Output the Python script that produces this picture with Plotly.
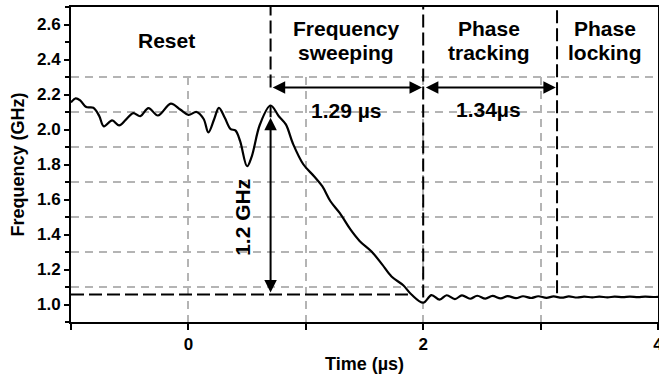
import plotly.graph_objects as go

# ---- data ----
time_us = [-1.00, -0.96, -0.92, -0.87, -0.81, -0.76, -0.72, -0.65, -0.59, -0.53,
           -0.47, -0.41, -0.34, -0.26, -0.15, -0.07, 0.00, 0.07, 0.13, 0.17,
           0.22, 0.26, 0.31, 0.36, 0.40, 0.44, 0.50, 0.54, 0.61, 0.70,
           0.77, 0.83, 0.89, 0.98, 1.07, 1.14, 1.21, 1.29, 1.38, 1.46,
           1.56, 1.65, 1.73, 1.83, 1.90, 2.00, 2.07, 2.14, 2.20, 2.27,
           2.33, 2.40, 2.46, 2.53, 2.59, 2.66, 2.72, 2.79, 2.85, 2.92,
           2.98, 3.05, 3.11, 3.18, 3.24, 3.31, 3.37, 3.44, 3.50, 3.57,
           3.63, 3.70, 3.76, 3.83, 3.89, 3.96, 4.00]
freq_ghz = [2.155, 2.178, 2.165, 2.128, 2.124, 2.078, 2.018, 2.052, 2.024, 2.058,
            2.094, 2.076, 2.122, 2.080, 2.148, 2.114, 2.084, 2.100, 2.060, 1.983,
            2.060, 2.124, 2.067, 2.002, 1.995, 1.935, 1.790, 1.847, 2.030, 2.137,
            2.076, 2.029, 1.920, 1.800, 1.733, 1.676, 1.590, 1.522, 1.429, 1.362,
            1.303, 1.229, 1.160, 1.110, 1.057, 1.010, 1.054, 1.028, 1.053, 1.031,
            1.052, 1.033, 1.050, 1.034, 1.049, 1.035, 1.048, 1.036, 1.047, 1.037,
            1.047, 1.038, 1.046, 1.039, 1.046, 1.040, 1.045, 1.041, 1.045, 1.041,
            1.045, 1.042, 1.045, 1.042, 1.045, 1.043, 1.044]

phase_bounds = [0.7, 2.0, 3.14]          # vertical dashed boundaries (us)
phase_bound_bottom = [2.24, 1.04, 1.065]  # where each boundary line stops (GHz)
peak_time = 0.7
peak_freq = 2.135
settle_freq = 1.057
settle_line_end = 1.87
arrow_level = 2.24
sweep_label = "1.29 µs"
track_label = "1.34µs"
step_label = "1.2 GHz"

phase_names = [["Reset"], ["Frequency", "sweeping"], ["Phase", "tracking"], ["Phase", "locking"]]
phase_centers = [-0.19, 1.345, 2.56, 3.55]

FONT = "Liberation Sans"

fig = go.Figure()
fig.add_trace(go.Scatter(x=time_us, y=freq_ghz, mode="lines",
                         line=dict(color="black", width=2.2, shape="spline", smoothing=1.0),
                         hoverinfo="skip", showlegend=False))

# white band hiding the grid above 2.3 GHz
fig.add_shape(type="rect", xref="x", yref="y", x0=-1, x1=4, y0=2.31, y1=2.7,
              fillcolor="white", line_width=0, layer="between")

dash = "13px,5px"
for xb, yb in zip(phase_bounds, phase_bound_bottom):
    fig.add_shape(type="line", x0=xb, x1=xb, y0=yb, y1=2.7,
                  line=dict(color="black", width=2, dash=dash))
fig.add_shape(type="line", x0=-1, x1=settle_line_end, y0=settle_freq, y1=settle_freq,
              line=dict(color="black", width=2, dash=dash))
# solid vertical line from peak to the settle level
fig.add_shape(type="line", x0=peak_time, x1=peak_time, y0=2.07, y1=peak_freq,
              line=dict(color="black", width=2))

arrow_style = dict(showarrow=True, arrowhead=2, startarrowhead=2, arrowside="end+start",
                   arrowsize=1.25, startarrowsize=1.25, arrowwidth=2, arrowcolor="black",
                   axref="x", ayref="y", text="")
# vertical 1.2 GHz arrow
fig.add_annotation(x=peak_time, y=settle_freq + 0.012, ax=peak_time, ay=2.075, **arrow_style)
# horizontal arrows
fig.add_annotation(x=phase_bounds[1] - 0.01, y=arrow_level, ax=phase_bounds[0] + 0.005, ay=arrow_level, **arrow_style)
fig.add_annotation(x=phase_bounds[2] - 0.01, y=arrow_level, ax=phase_bounds[1] + 0.01, ay=arrow_level, **arrow_style)

lab_font = dict(family=FONT, size=21, color="black", weight="bold")
fig.add_annotation(x=1.345, y=2.11, text=sweep_label, showarrow=False, font=lab_font)
fig.add_annotation(x=2.56, y=2.115, text=track_label, showarrow=False, font=lab_font)
fig.add_annotation(x=0.455, y=1.5, text=step_label, showarrow=False, font=lab_font, textangle=-90)

for name_lines, xc in zip(phase_names, phase_centers):
    if len(name_lines) == 1:
        fig.add_annotation(x=xc, y=2.51, text=name_lines[0], showarrow=False, font=lab_font)
    else:
        for line_text, yy in zip(name_lines, [2.58, 2.44]):
            fig.add_annotation(x=xc, y=yy, text=line_text, showarrow=False, font=lab_font)

grid_color = "#b4b4b4"
tick_font = dict(family=FONT, size=17, color="black", weight="bold")
title_font = dict(family=FONT, size=18, color="black", weight="bold")

fig.update_xaxes(range=[-1, 4], tick0=0, dtick=2, ticks="outside", ticklen=6, tickwidth=2,
                 tickcolor="black", showline=True, linecolor="black", linewidth=2, mirror=True,
                 showgrid=True, gridcolor=grid_color, gridwidth=1.5, griddash="8px,6px",
                 minor=dict(dtick=1, tick0=0, ticks="outside", ticklen=6, tickwidth=2,
                            tickcolor="black", showgrid=True, gridcolor=grid_color,
                            gridwidth=1.5, griddash="8px,6px"),
                 zeroline=False, tickfont=tick_font, automargin=False, ticklabeloverflow="allow",
                 title=dict(text="Time (µs)", font=title_font, standoff=4))
fig.update_yaxes(range=[0.9, 2.7], tick0=1.0, dtick=0.2, tickformat=".1f", ticks="outside",
                 ticklen=5, tickwidth=2, tickcolor="black", showline=True, linecolor="black",
                 linewidth=2, mirror=True, showgrid=False, zeroline=False,
                 minor=dict(dtick=0.1, tick0=1.0, ticks="outside", ticklen=4, tickwidth=2,
                            tickcolor="black", showgrid=True, gridcolor=grid_color,
                            gridwidth=1.5, griddash="8px,6px"),
                 tickfont=tick_font, automargin=False, ticklabeloverflow="allow",
                 title=dict(text="Frequency (GHz)", font=title_font, standoff=8))

fig.update_layout(width=659, height=375, margin=dict(l=71, r=1, t=7, b=53),
                  plot_bgcolor="white", paper_bgcolor="white", showlegend=False)

fig.write_html("out.html", config={"displayModeBar": False},
               post_script="document.body.style.margin='0';document.body.style.overflow='hidden';")
